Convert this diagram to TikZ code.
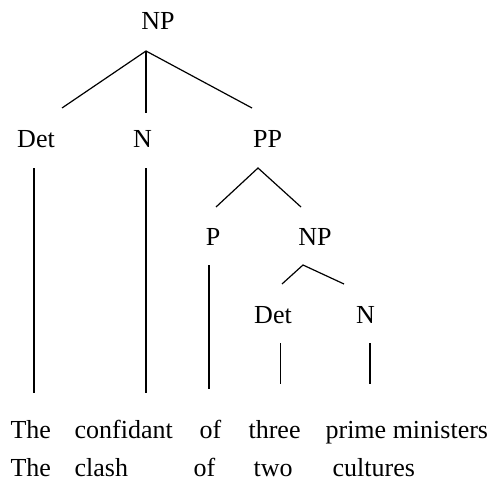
\documentclass[tikz,border=0pt]{standalone}
\usepackage{fontspec}
\setmainfont{Liberation Serif}

\begin{document}
\begin{tikzpicture}[x=1pt,y=-1pt,line width=1.2pt,
  every node/.style={inner sep=0pt,anchor=base,font=\fontsize{26}{31}\selectfont},
  word/.style={anchor=base west}]
\useasboundingbox (0,0) rectangle (489,481);

% category labels
\node (np) at (158,30) {NP};
\node (det) at (36,147) {Det};
\node (n) at (142.5,147) {N};
\node (pp) at (267.5,148) {PP};
\node (p) at (213,245) {P};
\node (np2) at (315,245) {NP};
\node (det2) at (273,323) {Det};
\node (n2) at (365.5,323) {N};

% branch ends
\coordinate (np-top) at (146,51);
\coordinate (np-l) at (62,108);
\coordinate (np-m) at (146,113);
\coordinate (np-r) at (252,108);
\coordinate (pp-top) at (258,168);
\coordinate (pp-l) at (216,207);
\coordinate (pp-r) at (301,207);
\coordinate (np2-top) at (303,265);
\coordinate (np2-l) at (282,284);
\coordinate (np2-r) at (344,284);
\coordinate (det-t) at (34,168);
\coordinate (det-b) at (34,393);
\coordinate (n-t) at (146,168);
\coordinate (n-b) at (146,393);
\coordinate (p-t) at (209,265);
\coordinate (p-b) at (209,389);
\coordinate (det2-t) at (280.5,343);
\coordinate (det2-b) at (280.5,384);
\coordinate (n2-t) at (370,343);
\coordinate (n2-b) at (370,384);

\draw (np-l) -- (np-top) -- (np-r);
\draw (np-top) -- (np-m);
\draw (pp-l) -- (pp-top) -- (pp-r);
\draw (np2-l) -- (np2-top) -- (np2-r);
\draw (det-t) -- (det-b);
\draw (n-t) -- (n-b);
\draw (p-t) -- (p-b);
\draw (det2-t) -- (det2-b);
\draw (n2-t) -- (n2-b);

% the two phrases
\node[word] (w1) at (10,438) {The};
\node[word] (w2) at (74,438) {confidant};
\node[word] (w3) at (199,438) {of};
\node[word] (w4) at (248,438) {three};
\node[word] (w5) at (325,438) {prime ministers};
\node[word] (v1) at (10,476) {The};
\node[word] (v2) at (74,476) {clash};
\node[word] (v3) at (193,476) {of};
\node[word] (v4) at (253,476) {two};
\node[word] (v5) at (332,476) {cultures};
\end{tikzpicture}
\end{document}
